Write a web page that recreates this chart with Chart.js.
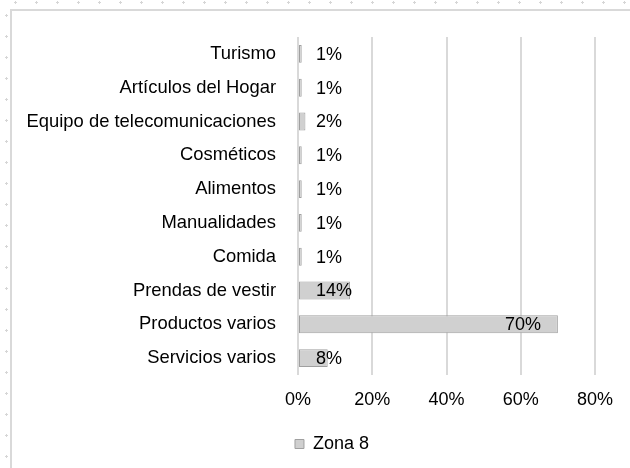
<!DOCTYPE html>
<html>
<head>
<meta charset="utf-8">
<script src="https://cdn.jsdelivr.net/npm/chart.js@4"></script>
<style>
  html, body { margin: 0; padding: 0; background: #fff; }
  #wrap {
    position: relative; width: 630px; height: 468px; overflow: hidden;
    /* spreadsheet dots around the chart frame */
    background:
      radial-gradient(circle, #d6d6d6 1px, transparent 1.2px) 5px -8px / 21px 21px repeat-x,
      radial-gradient(circle, #d6d6d6 1px, transparent 1.2px) -4px 5px / 21px 21px repeat-y;
  }
  #frame {
    position: absolute; left: 10px; top: 9px; right: 0; bottom: 0;
    border-left: 2px solid #d9d9d9; border-top: 2px solid #d9d9d9; background: #fff;
  }
  canvas { position: absolute; left: 0; top: 0; }
</style>
</head>
<body>
<div id="wrap">
  <div id="frame"></div>
  <canvas id="chart" width="630" height="468"></canvas>
</div>
<script>
/* ------------------------------------------------------------------ */
/*  Data                                                               */
/* ------------------------------------------------------------------ */
const categories = [
    'Turismo',
    'Artículos del Hogar',
    'Equipo de telecomunicaciones',
    'Cosméticos',
    'Alimentos',
    'Manualidades',
    'Comida',
    'Prendas de vestir',
    'Productos varios',
    'Servicios varios'
];
const zona8 = [1, 1, 2, 1, 1, 1, 1, 14, 70, 8];
const series_name = 'Zona 8';
const x_ticks = [0, 20, 40, 60, 80];

const FONT = "'Liberation Sans', Arial, sans-serif";
const FONT_SIZE = 18;

/* Gray bar fill with a light top highlight, like the Excel bevel. */
function barFill(ctx) {
    const el = ctx.element;
    const area = ctx.chart.chartArea;
    if (!area || !el || el.y === undefined) return '#d0d0d0';
    const h = el.height || 18;
    const g = ctx.chart.ctx.createLinearGradient(0, el.y - h / 2, 0, el.y + h / 2);
    g.addColorStop(0, '#e2e2e2');
    g.addColorStop(0.5, '#d2d2d2');
    g.addColorStop(1, '#c2c2c2');
    return g;
}

/* Data labels: left edge at bar end minus 53px, but never closer than 17px to the axis. */
const barLabels = {
    id: 'barLabels',
    afterDatasetsDraw(chart) {
        const ctx = chart.ctx;
        const meta = chart.getDatasetMeta(0);
        ctx.save();
        ctx.font = `${FONT_SIZE}px ${FONT}`;
        ctx.fillStyle = '#000';
        ctx.textBaseline = 'middle';
        ctx.textAlign = 'left';
        meta.data.forEach((bar, i) => {
            const x = Math.max(bar.base + 17, bar.x - 53);
            ctx.fillText(`${zona8[i]}%`, x, bar.y + 1);
        });
        ctx.restore();
    }
};

/* Legend sits a bit right of the canvas centre, as in the source chart. */
const shiftLegend = {
    id: 'shiftLegend',
    afterLayout(chart) {
        if (chart.legend) {
            chart.legend.left = 32;
            chart.legend.right = 632;
        }
    }
};

new Chart(document.getElementById('chart'), {
    type: 'bar',
    data: {
        labels: categories,
        datasets: [{
            label: series_name,
            data: zona8,
            backgroundColor: barFill,
            borderColor: '#a0a0a0',
            borderWidth: 1,
            borderSkipped: false,
            barPercentage: 0.53,
            categoryPercentage: 1
        }]
    },
    options: {
        indexAxis: 'y',
        animation: false,
        responsive: false,
        layout: { padding: { left: 0, right: 0, top: 37, bottom: 5 } },
        scales: {
            x: {
                min: 0,
                max: 80,
                afterBuildTicks(scale) {
                    scale.ticks = x_ticks.map(v => ({ value: v }));
                },
                afterFit(scale) {
                    scale.height = 50;
                    scale.paddingRight = 35;
                },
                ticks: {
                    color: '#000',
                    font: { family: FONT, size: FONT_SIZE },
                    padding: 14,
                    callback: v => `${v}%`
                },
                grid: { color: '#d9d9d9', lineWidth: 2, drawTicks: false },
                border: { display: false }
            },
            y: {
                afterFit(scale) { scale.width = 298; },
                ticks: {
                    color: '#000',
                    font: { family: FONT, size: 18.4 },
                    padding: 22
                },
                grid: { display: false, drawTicks: false },
                border: { display: false }
            }
        },
        plugins: {
            legend: {
                position: 'bottom',
                labels: {
                    color: '#000',
                    font: { family: FONT, size: FONT_SIZE },
                    boxWidth: 9,
                    boxHeight: 9,
                    padding: 10,
                    generateLabels: () => [{
                        text: series_name,
                        fillStyle: '#cfcfcf',
                        strokeStyle: '#a0a0a0',
                        lineWidth: 1
                    }]
                }
            },
            tooltip: { enabled: false }
        }
    },
    plugins: [barLabels, shiftLegend]
});
</script>
</body>
</html>
